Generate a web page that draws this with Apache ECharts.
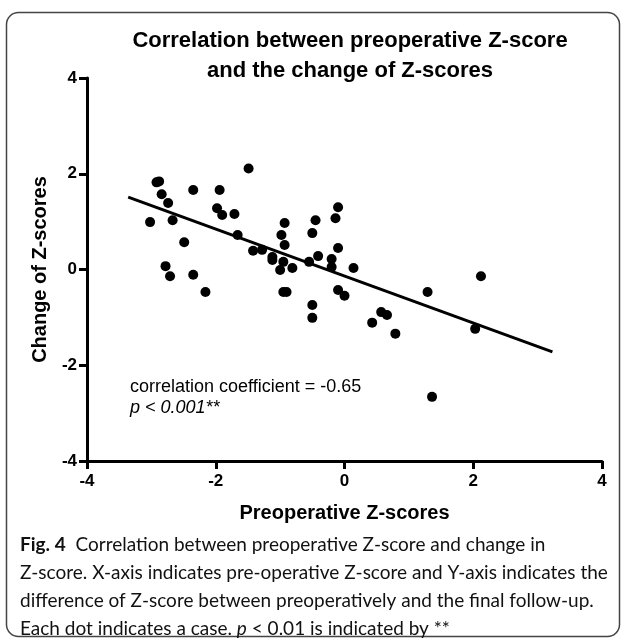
<!DOCTYPE html>
<html>
<head>
<meta charset="utf-8">
<script src="https://cdn.jsdelivr.net/npm/echarts@6/dist/echarts.min.js"></script>
<style>
  html, body { margin: 0; padding: 0; background: #fff; }
  #chart { width: 626px; height: 642px; }
</style>
</head>
<body>
<div id="chart"></div>
<script>
  // preoperative Z-score (x) vs change of Z-score (y), one dot per case
  const preZ = [
    -3.02, -2.92, -2.88, -2.84, -2.74, -2.67, -2.78, -2.71, -2.49, -2.35,
    -2.35, -2.16, -1.94, -1.98, -1.90, -1.71, -1.49, -1.66, -1.42, -1.28,
    -1.12, -1.12, -0.93, -0.98, -0.93, -1.00, -0.95, -0.81, -0.95, -0.90,
    -0.55, -0.50, -0.45, -0.41, -0.50, -0.50, -0.20, -0.20, -0.14, -0.10,
    -0.10, -0.10, 0.00, 0.14, 0.57, 0.66, 0.43, 0.79, 1.29, 2.12,
    2.03, 1.36
  ];
  const changeZ = [
    0.99, 1.82, 1.84, 1.57, 1.39, 1.03, 0.07, -0.14, 0.57, 1.66,
    -0.11, -0.47, 1.66, 1.28, 1.14, 1.16, 2.11, 0.72, 0.39, 0.41,
    0.26, 0.20, 0.97, 0.72, 0.51, -0.01, 0.16, 0.03, -0.47, -0.47,
    0.16, 0.76, 1.03, 0.28, -0.74, -1.01, 0.22, 0.05, 1.07, 1.30,
    0.45, -0.43, -0.55, 0.03, -0.89, -0.95, -1.11, -1.34, -0.47, -0.14,
    -1.24, -2.66
  ];
  // regression line end points
  const fitX = [-3.36, 3.23];
  const fitY = [1.51, -1.72];
  const axisTicks = [-4, -2, 0, 2, 4];

  const chart = echarts.init(document.getElementById('chart'));

  const font = 'Liberation Sans, Arial, sans-serif';
  const capFont = 'Lato, Open Sans, sans-serif';

  const option = {
    backgroundColor: '#fff',
    animation: false,
    title: {
      text: 'Correlation between preoperative Z-score\nand the change of Z-scores',
      left: 345,
      top: 21,
      textAlign: 'center',
      textStyle: {
        fontFamily: font,
        fontWeight: 'bold',
        fontSize: 22,
        lineHeight: 30,
        color: '#000'
      }
    },
    grid: { left: 87, right: 24, top: 78, bottom: 181 },
    xAxis: {
      type: 'value',
      min: axisTicks[0],
      max: axisTicks[axisTicks.length - 1],
      interval: 2,
      name: 'Preoperative Z-scores',
      nameLocation: 'middle',
      nameGap: 42,
      nameTextStyle: { fontFamily: font, fontWeight: 'bold', fontSize: 20, color: '#000' },
      axisLine: { onZero: false, lineStyle: { color: '#000', width: 3 } },
      axisTick: { length: 8, lineStyle: { color: '#000', width: 3 } },
      axisLabel: { margin: 12, fontFamily: font, fontWeight: 'bold', fontSize: 17, color: '#000' },
      splitLine: { show: false }
    },
    yAxis: {
      type: 'value',
      min: axisTicks[0],
      max: axisTicks[axisTicks.length - 1],
      interval: 2,
      name: 'Change of Z-scores',
      nameLocation: 'middle',
      nameGap: 37,
      nameTextStyle: { fontFamily: font, fontWeight: 'bold', fontSize: 20, color: '#000' },
      axisLine: { onZero: false, lineStyle: { color: '#000', width: 3 } },
      axisTick: { length: 8, lineStyle: { color: '#000', width: 3 } },
      axisLabel: { margin: 10, fontFamily: font, fontWeight: 'bold', fontSize: 17, color: '#000' },
      splitLine: { show: false }
    },
    series: [
      {
        type: 'line',
        data: fitX.map((x, i) => [x, fitY[i]]),
        symbol: 'none',
        lineStyle: { color: '#000', width: 3 },
        z: 2
      },
      {
        type: 'scatter',
        data: preZ.map((x, i) => [x, changeZ[i]]),
        symbol: 'circle',
        symbolSize: 10,
        itemStyle: { color: '#000', opacity: 1 },
        z: 3
      }
    ],
    graphic: [
      {
        type: 'rect',
        shape: { x: 6.5, y: 12.5, width: 613, height: 624, r: 12 },
        style: { fill: 'none', stroke: '#444', lineWidth: 1.5 },
        z: 0
      },
      {
        type: 'text',
        left: 130,
        top: 378,
        style: {
          text: 'correlation coefficient = -0.65',
          font: '18px ' + font,
          fill: '#000'
        }
      },
      {
        type: 'text',
        left: 130,
        top: 399,
        style: {
          text: 'p < 0.001**',
          font: 'italic 18px ' + font,
          fill: '#000'
        }
      },
      {
        type: 'text',
        left: 20,
        top: 535,
        style: {
          text: '{b|Fig. 4}  Correlation between preoperative Z-score and change in',
          font: '19px ' + capFont,
          fill: '#111',
          rich: { b: { fontFamily: capFont, fontWeight: 'bold', fontSize: 19, fill: '#111' } }
        }
      },
      {
        type: 'text',
        left: 20,
        top: 563,
        style: {
          text: 'Z-score. X-axis indicates pre-operative Z-score and Y-axis indicates the',
          font: '19px ' + capFont,
          fill: '#111'
        }
      },
      {
        type: 'text',
        left: 20,
        top: 591,
        style: {
          text: 'difference of Z-score between preoperatively and the final follow-up.',
          font: '19px ' + capFont,
          fill: '#111'
        }
      },
      {
        type: 'text',
        left: 20,
        top: 619,
        style: {
          text: 'Each dot indicates a case. {i|p} < 0.01 is indicated by **',
          font: '19px ' + capFont,
          fill: '#111',
          rich: { i: { fontFamily: capFont, fontStyle: 'italic', fontSize: 19, fill: '#111' } }
        }
      }
    ]
  };

  chart.setOption(option);
</script>
</body>
</html>
